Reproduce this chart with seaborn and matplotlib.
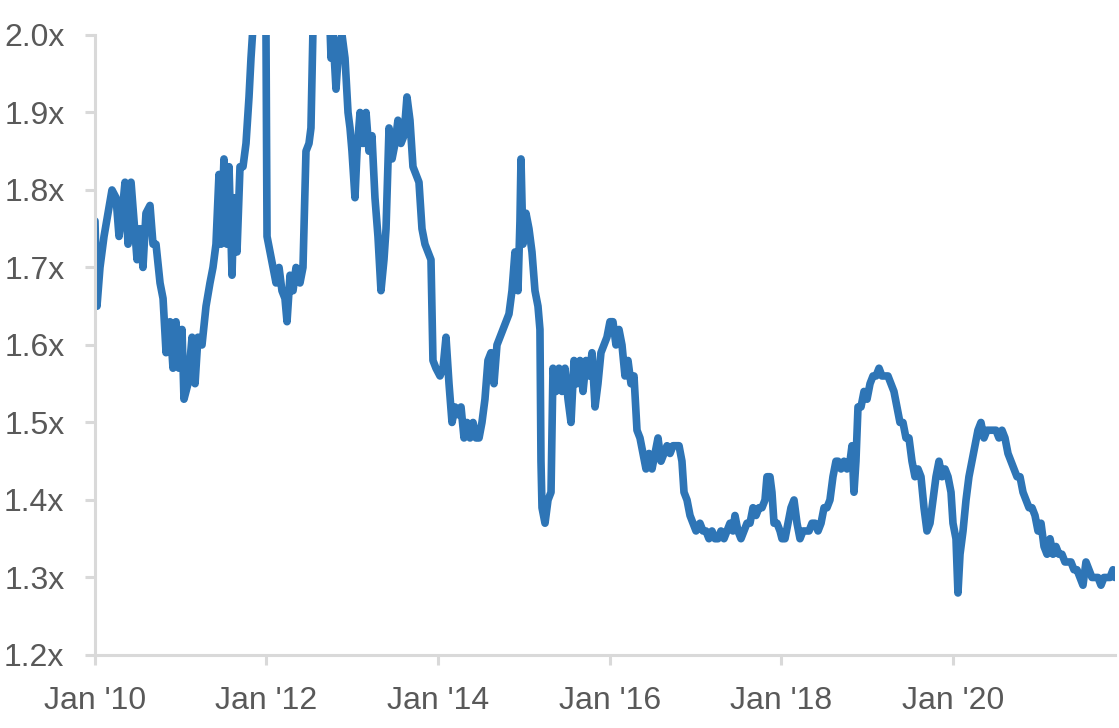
import pandas as pd
import matplotlib.pyplot as plt
import matplotlib.dates as mdates
import matplotlib.ticker as mticker
import seaborn as sns

# time in years since Jan 2010 and the multiple
anos = [
    0.000, 0.023, 0.058, 0.105, 0.152, 0.198, 0.245, 0.280, 0.315, 0.350,
    0.385, 0.420, 0.455, 0.490, 0.524, 0.559, 0.594, 0.641, 0.676, 0.711,
    0.758, 0.793, 0.828, 0.874, 0.909, 0.944, 0.979, 1.014, 1.037, 1.084,
    1.131, 1.166, 1.200, 1.247, 1.294, 1.340, 1.375, 1.410, 1.445, 1.469,
    1.503, 1.538, 1.562, 1.597, 1.620, 1.655, 1.690, 1.725, 1.760, 1.795,
    1.818, 1.841, 1.876, 1.923, 1.970, 1.993, 2.005, 2.040, 2.075, 2.110,
    2.145, 2.179, 2.214, 2.238, 2.273, 2.308, 2.343, 2.389, 2.424, 2.459,
    2.494, 2.517, 2.541, 2.587, 2.634, 2.681, 2.727, 2.751, 2.774, 2.809,
    2.844, 2.879, 2.914, 2.949, 2.972, 2.995, 3.030, 3.054, 3.089, 3.124,
    3.159, 3.193, 3.228, 3.263, 3.298, 3.333, 3.368, 3.392, 3.427, 3.462,
    3.497, 3.531, 3.566, 3.601, 3.636, 3.671, 3.706, 3.741, 3.776, 3.811,
    3.846, 3.881, 3.916, 3.939, 3.974, 4.021, 4.056, 4.091, 4.126, 4.161,
    4.196, 4.231, 4.266, 4.301, 4.336, 4.371, 4.406, 4.441, 4.476, 4.510,
    4.545, 4.580, 4.615, 4.650, 4.685, 4.720, 4.755, 4.790, 4.825, 4.860,
    4.895, 4.930, 4.953, 4.965, 4.988, 5.023, 5.058, 5.093, 5.128, 5.163,
    5.186, 5.198, 5.210, 5.245, 5.280, 5.315, 5.338, 5.373, 5.408, 5.443,
    5.478, 5.513, 5.548, 5.583, 5.618, 5.653, 5.688, 5.723, 5.758, 5.793,
    5.828, 5.862, 5.897, 5.932, 5.967, 6.002, 6.037, 6.072, 6.107, 6.142,
    6.177, 6.212, 6.247, 6.282, 6.317, 6.352, 6.387, 6.422, 6.457, 6.492,
    6.527, 6.562, 6.597, 6.632, 6.667, 6.702, 6.737, 6.772, 6.807, 6.841,
    6.865, 6.900, 6.935, 6.970, 7.005, 7.051, 7.086, 7.121, 7.156, 7.191,
    7.226, 7.261, 7.296, 7.331, 7.366, 7.401, 7.436, 7.459, 7.494, 7.529,
    7.564, 7.599, 7.634, 7.669, 7.704, 7.739, 7.774, 7.809, 7.832, 7.867,
    7.890, 7.914, 7.949, 7.984, 8.007, 8.042, 8.077, 8.112, 8.147, 8.182,
    8.217, 8.252, 8.287, 8.322, 8.357, 8.392, 8.427, 8.462, 8.497, 8.531,
    8.566, 8.601, 8.636, 8.660, 8.695, 8.730, 8.765, 8.800, 8.823, 8.846,
    8.869, 8.893, 8.928, 8.963, 8.998, 9.033, 9.068, 9.103, 9.138, 9.172,
    9.207, 9.242, 9.277, 9.312, 9.347, 9.382, 9.417, 9.452, 9.487, 9.522,
    9.557, 9.592, 9.627, 9.662, 9.697, 9.732, 9.767, 9.802, 9.837, 9.872,
    9.907, 9.942, 9.977, 10.000, 10.035, 10.058, 10.082, 10.117, 10.152, 10.186,
    10.221, 10.256, 10.291, 10.326, 10.361, 10.396, 10.431, 10.466, 10.501, 10.536,
    10.571, 10.606, 10.641, 10.676, 10.711, 10.746, 10.781, 10.816, 10.851, 10.886,
    10.921, 10.956, 10.991, 11.026, 11.061, 11.096, 11.131, 11.166, 11.200, 11.235,
    11.270, 11.305, 11.340, 11.375, 11.410, 11.445, 11.480, 11.515, 11.550, 11.585,
    11.620, 11.655, 11.690, 11.725, 11.760, 11.795, 11.830, 11.865, 11.888,
]

multiplo = [
    1.76, 1.65, 1.70, 1.74, 1.77, 1.80, 1.79, 1.74, 1.77, 1.81,
    1.73, 1.81, 1.76, 1.71, 1.75, 1.70, 1.77, 1.78, 1.73, 1.73,
    1.68, 1.66, 1.59, 1.63, 1.57, 1.63, 1.57, 1.62, 1.53, 1.55,
    1.61, 1.55, 1.61, 1.60, 1.65, 1.68, 1.70, 1.73, 1.82, 1.73,
    1.84, 1.73, 1.83, 1.69, 1.79, 1.72, 1.83, 1.83, 1.86, 1.92,
    1.97, 2.01, 2.15, 2.25, 2.10, 2.00, 1.74, 1.72, 1.70, 1.68,
    1.70, 1.67, 1.66, 1.63, 1.69, 1.67, 1.70, 1.68, 1.70, 1.85,
    1.86, 1.88, 2.01, 2.20, 2.30, 2.15, 2.05, 1.97, 2.00, 1.93,
    1.99, 2.00, 1.97, 1.90, 1.88, 1.85, 1.79, 1.85, 1.90, 1.86,
    1.90, 1.85, 1.87, 1.79, 1.74, 1.67, 1.71, 1.75, 1.88, 1.84,
    1.86, 1.89, 1.86, 1.87, 1.92, 1.89, 1.83, 1.82, 1.81, 1.75,
    1.73, 1.72, 1.71, 1.58, 1.57, 1.56, 1.57, 1.61, 1.55, 1.50,
    1.52, 1.51, 1.52, 1.48, 1.50, 1.48, 1.50, 1.48, 1.48, 1.50,
    1.53, 1.58, 1.59, 1.55, 1.60, 1.61, 1.62, 1.63, 1.64, 1.67,
    1.72, 1.67, 1.76, 1.84, 1.73, 1.77, 1.75, 1.72, 1.67, 1.65,
    1.62, 1.45, 1.39, 1.37, 1.40, 1.41, 1.57, 1.54, 1.57, 1.54,
    1.57, 1.53, 1.50, 1.58, 1.55, 1.58, 1.54, 1.58, 1.56, 1.59,
    1.52, 1.55, 1.59, 1.60, 1.61, 1.63, 1.63, 1.60, 1.62, 1.60,
    1.56, 1.58, 1.55, 1.56, 1.49, 1.48, 1.46, 1.44, 1.46, 1.44,
    1.46, 1.48, 1.45, 1.46, 1.47, 1.46, 1.47, 1.47, 1.47, 1.45,
    1.41, 1.40, 1.38, 1.37, 1.36, 1.37, 1.36, 1.36, 1.35, 1.36,
    1.35, 1.35, 1.36, 1.35, 1.36, 1.37, 1.36, 1.38, 1.36, 1.35,
    1.36, 1.37, 1.37, 1.39, 1.38, 1.39, 1.39, 1.40, 1.43, 1.43,
    1.41, 1.37, 1.37, 1.36, 1.35, 1.35, 1.37, 1.39, 1.40, 1.37,
    1.35, 1.36, 1.36, 1.36, 1.37, 1.37, 1.36, 1.37, 1.39, 1.39,
    1.40, 1.43, 1.45, 1.45, 1.44, 1.45, 1.44, 1.45, 1.47, 1.41,
    1.45, 1.52, 1.52, 1.54, 1.53, 1.55, 1.56, 1.56, 1.57, 1.56,
    1.56, 1.56, 1.55, 1.54, 1.52, 1.50, 1.50, 1.48, 1.48, 1.45,
    1.43, 1.44, 1.43, 1.39, 1.36, 1.37, 1.40, 1.43, 1.45, 1.43,
    1.44, 1.43, 1.41, 1.37, 1.35, 1.28, 1.33, 1.36, 1.40, 1.43,
    1.45, 1.47, 1.49, 1.50, 1.48, 1.49, 1.49, 1.49, 1.49, 1.48,
    1.49, 1.48, 1.46, 1.45, 1.44, 1.43, 1.43, 1.41, 1.40, 1.39,
    1.39, 1.38, 1.36, 1.37, 1.34, 1.33, 1.35, 1.33, 1.34, 1.33,
    1.33, 1.32, 1.32, 1.32, 1.31, 1.31, 1.30, 1.29, 1.32, 1.31,
    1.30, 1.30, 1.30, 1.29, 1.30, 1.30, 1.30, 1.31, 1.30,
]

datas = pd.Timestamp('2010-01-01') + pd.to_timedelta([a * 365.25 for a in anos], unit='D')
df = pd.DataFrame({'data': datas, 'multiplo': multiplo})

sns.set_theme(style='white')
plt.rcParams['font.family'] = ['Liberation Sans', 'DejaVu Sans']

cinza = '#D9D9D9'
texto = '#595959'

fig = plt.figure(figsize=(11.19, 7.28), dpi=100)
ax = fig.add_axes([0.0849, 0.1003, 0.9115, 0.8517])

sns.lineplot(data=df, x='data', y='multiplo', color='#2E75B6', linewidth=5.5, ax=ax)

ax.set_ylim(1.2, 2.0)
ax.set_xlim(pd.Timestamp('2010-01-01'), datas[-1])
ax.yaxis.set_major_locator(mticker.MultipleLocator(0.1))
ax.yaxis.set_major_formatter(mticker.FuncFormatter(lambda v, p: f'{v:.1f}x'))
ax.xaxis.set_major_locator(mdates.YearLocator(2))
ax.xaxis.set_major_formatter(mdates.DateFormatter("%b '%y"))

ax.set_xlabel('')
ax.set_ylabel('')
for lado in ['top', 'right']:
    ax.spines[lado].set_visible(False)
for lado in ['left', 'bottom']:
    ax.spines[lado].set_color(cinza)
    ax.spines[lado].set_linewidth(2.2)

ax.tick_params(axis='both', which='major', length=7, width=2.2, color=cinza,
               labelsize=23, labelcolor=texto, pad=15,
               left=True, bottom=True)

fig.savefig('out.png', dpi=100)
